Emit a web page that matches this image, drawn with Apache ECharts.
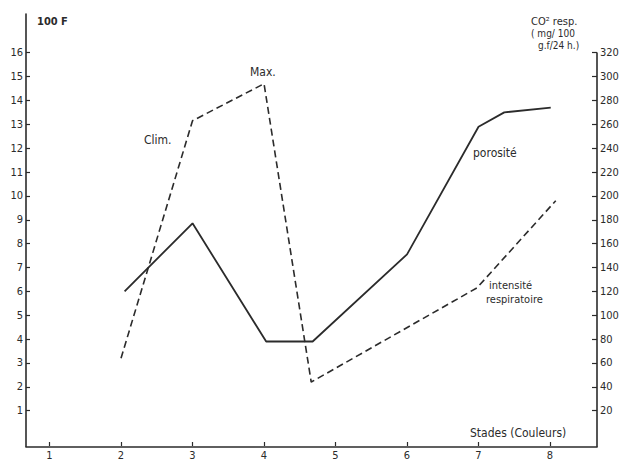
<!DOCTYPE html>
<html>
<head>
<meta charset="utf-8">
<script src="https://cdn.jsdelivr.net/npm/echarts@6/dist/echarts.min.js"></script>
<style>
html,body{margin:0;padding:0;background:#fff;}
#chart{width:623px;height:461px;}
</style>
</head>
<body>
<div id="chart"></div>
<script>
// Stades (x) and values
const porositeStades = [2.05, 3.0, 4.03, 4.68, 6.0, 7.0, 7.36, 8.01];
const porositeValues = [6.0, 8.85, 3.9, 3.9, 7.55, 12.9, 13.5, 13.7];
const respStades = [2.0, 3.0, 4.0, 4.66, 6.98, 8.08];
const respValues = [64, 263, 294, 44, 123, 196];
const stadeTicks = [1, 2, 3, 4, 5, 6, 7, 8];
const leftTicks = [1, 16];   // 100 F scale range
const rightTicks = [20, 320]; // CO2 scale range

const FONT = "'DejaVu Sans Condensed','Liberation Sans Narrow','Open Sans',sans-serif";
const INK = '#2b2b2b';
const xMin = 0.671, xMax = 8.657;

const chart = echarts.init(document.getElementById('chart'), null, {renderer: 'svg'});

chart.setOption({
  animation: false,
  backgroundColor: '#ffffff',
  grid: [
    {left: 26, right: 26, top: 14, bottom: 14.5},
    {left: 26, right: 26, top: 53, bottom: 14.5},
    {left: 26, right: 26, top: 52.7, bottom: 50.3},
    {left: 49.5, right: 73, top: 14, bottom: 14.5}
  ],
  xAxis: [
    {gridIndex: 0, type: 'value', min: xMin, max: xMax,
     axisLine: {show: true, lineStyle: {color: INK, width: 1.6}},
     axisTick: {show: false}, axisLabel: {show: false}, splitLine: {show: false}},
    {gridIndex: 1, type: 'value', min: xMin, max: xMax, show: false},
    {gridIndex: 2, type: 'value', min: xMin, max: xMax, show: false},
    {gridIndex: 3, type: 'value', min: stadeTicks[0], max: stadeTicks[stadeTicks.length - 1], interval: 1,
     axisLine: {show: false},
     axisTick: {show: true, inside: true, length: 4, lineStyle: {color: INK, width: 1.2}},
     axisLabel: {show: true, margin: 4, color: INK, fontSize: 11, fontFamily: FONT},
     splitLine: {show: false}}
  ],
  yAxis: [
    {gridIndex: 0, type: 'value', min: 0, max: 1, position: 'left',
     axisLine: {show: true, lineStyle: {color: INK, width: 1.6}},
     axisTick: {show: false}, axisLabel: {show: false}, splitLine: {show: false}},
    {gridIndex: 1, type: 'value', min: 0, max: 1, position: 'right',
     axisLine: {show: true, lineStyle: {color: INK, width: 1.6}},
     axisTick: {show: false}, axisLabel: {show: false}, splitLine: {show: false}},
    {gridIndex: 2, type: 'value', min: leftTicks[0], max: leftTicks[1], interval: 1, position: 'left',
     axisLine: {show: false},
     axisTick: {show: true, inside: true, length: 4, lineStyle: {color: INK, width: 1.2}},
     axisLabel: {show: true, margin: 3, color: INK, fontSize: 11, fontFamily: FONT},
     splitLine: {show: false}},
    {gridIndex: 2, type: 'value', min: rightTicks[0], max: rightTicks[1], interval: 20, position: 'right',
     axisLine: {show: false},
     axisTick: {show: true, inside: true, length: 5, lineStyle: {color: INK, width: 1.2}},
     axisLabel: {show: true, margin: 3, color: INK, fontSize: 11, fontFamily: FONT},
     splitLine: {show: false}},
    {gridIndex: 3, type: 'value', min: 0, max: 1, show: false}
  ],
  series: [
    {name: 'porosité', type: 'line', xAxisIndex: 2, yAxisIndex: 2, clip: false,
     data: porositeStades.map((x, i) => [x, porositeValues[i]]),
     showSymbol: false, symbol: 'none',
     lineStyle: {color: INK, width: 1.8, type: 'solid'}},
    {name: 'intensité respiratoire', type: 'line', xAxisIndex: 2, yAxisIndex: 3, clip: false,
     data: respStades.map((x, i) => [x, respValues[i]]),
     showSymbol: false, symbol: 'none',
     lineStyle: {color: INK, width: 1.6, type: [7, 4]}}
  ],
  graphic: [
    {type: 'text', left: 37, top: 16, style: {text: '100 F', fill: INK, font: "bold 11px " + FONT}},
    {type: 'text', left: 531, top: 15, style: {text: 'CO² resp.', fill: INK, font: "11px " + FONT, lineHeight: 12}},
    {type: 'text', left: 531, top: 28, style: {text: '( mg/ 100', fill: INK, font: "10px " + FONT, lineHeight: 10}},
    {type: 'text', left: 538, top: 40, style: {text: 'g.f/24 h.)', fill: INK, font: "10px " + FONT, lineHeight: 10}},
    {type: 'text', left: 144, top: 134, style: {text: 'Clim.', fill: INK, font: "12px " + FONT}},
    {type: 'text', left: 250, top: 66, style: {text: 'Max.', fill: INK, font: "12px " + FONT}},
    {type: 'text', left: 473, top: 147, style: {text: 'porosité', fill: INK, font: "12px " + FONT}},
    {type: 'text', left: 489, top: 280, style: {text: 'intensité', fill: INK, font: "11px " + FONT}},
    {type: 'text', left: 486, top: 294, style: {text: 'respiratoire', fill: INK, font: "11px " + FONT}},
    {type: 'text', left: 470, top: 427, style: {text: 'Stades (Couleurs)', fill: INK, font: "12px " + FONT}}
  ]
});
</script>
</body>
</html>
